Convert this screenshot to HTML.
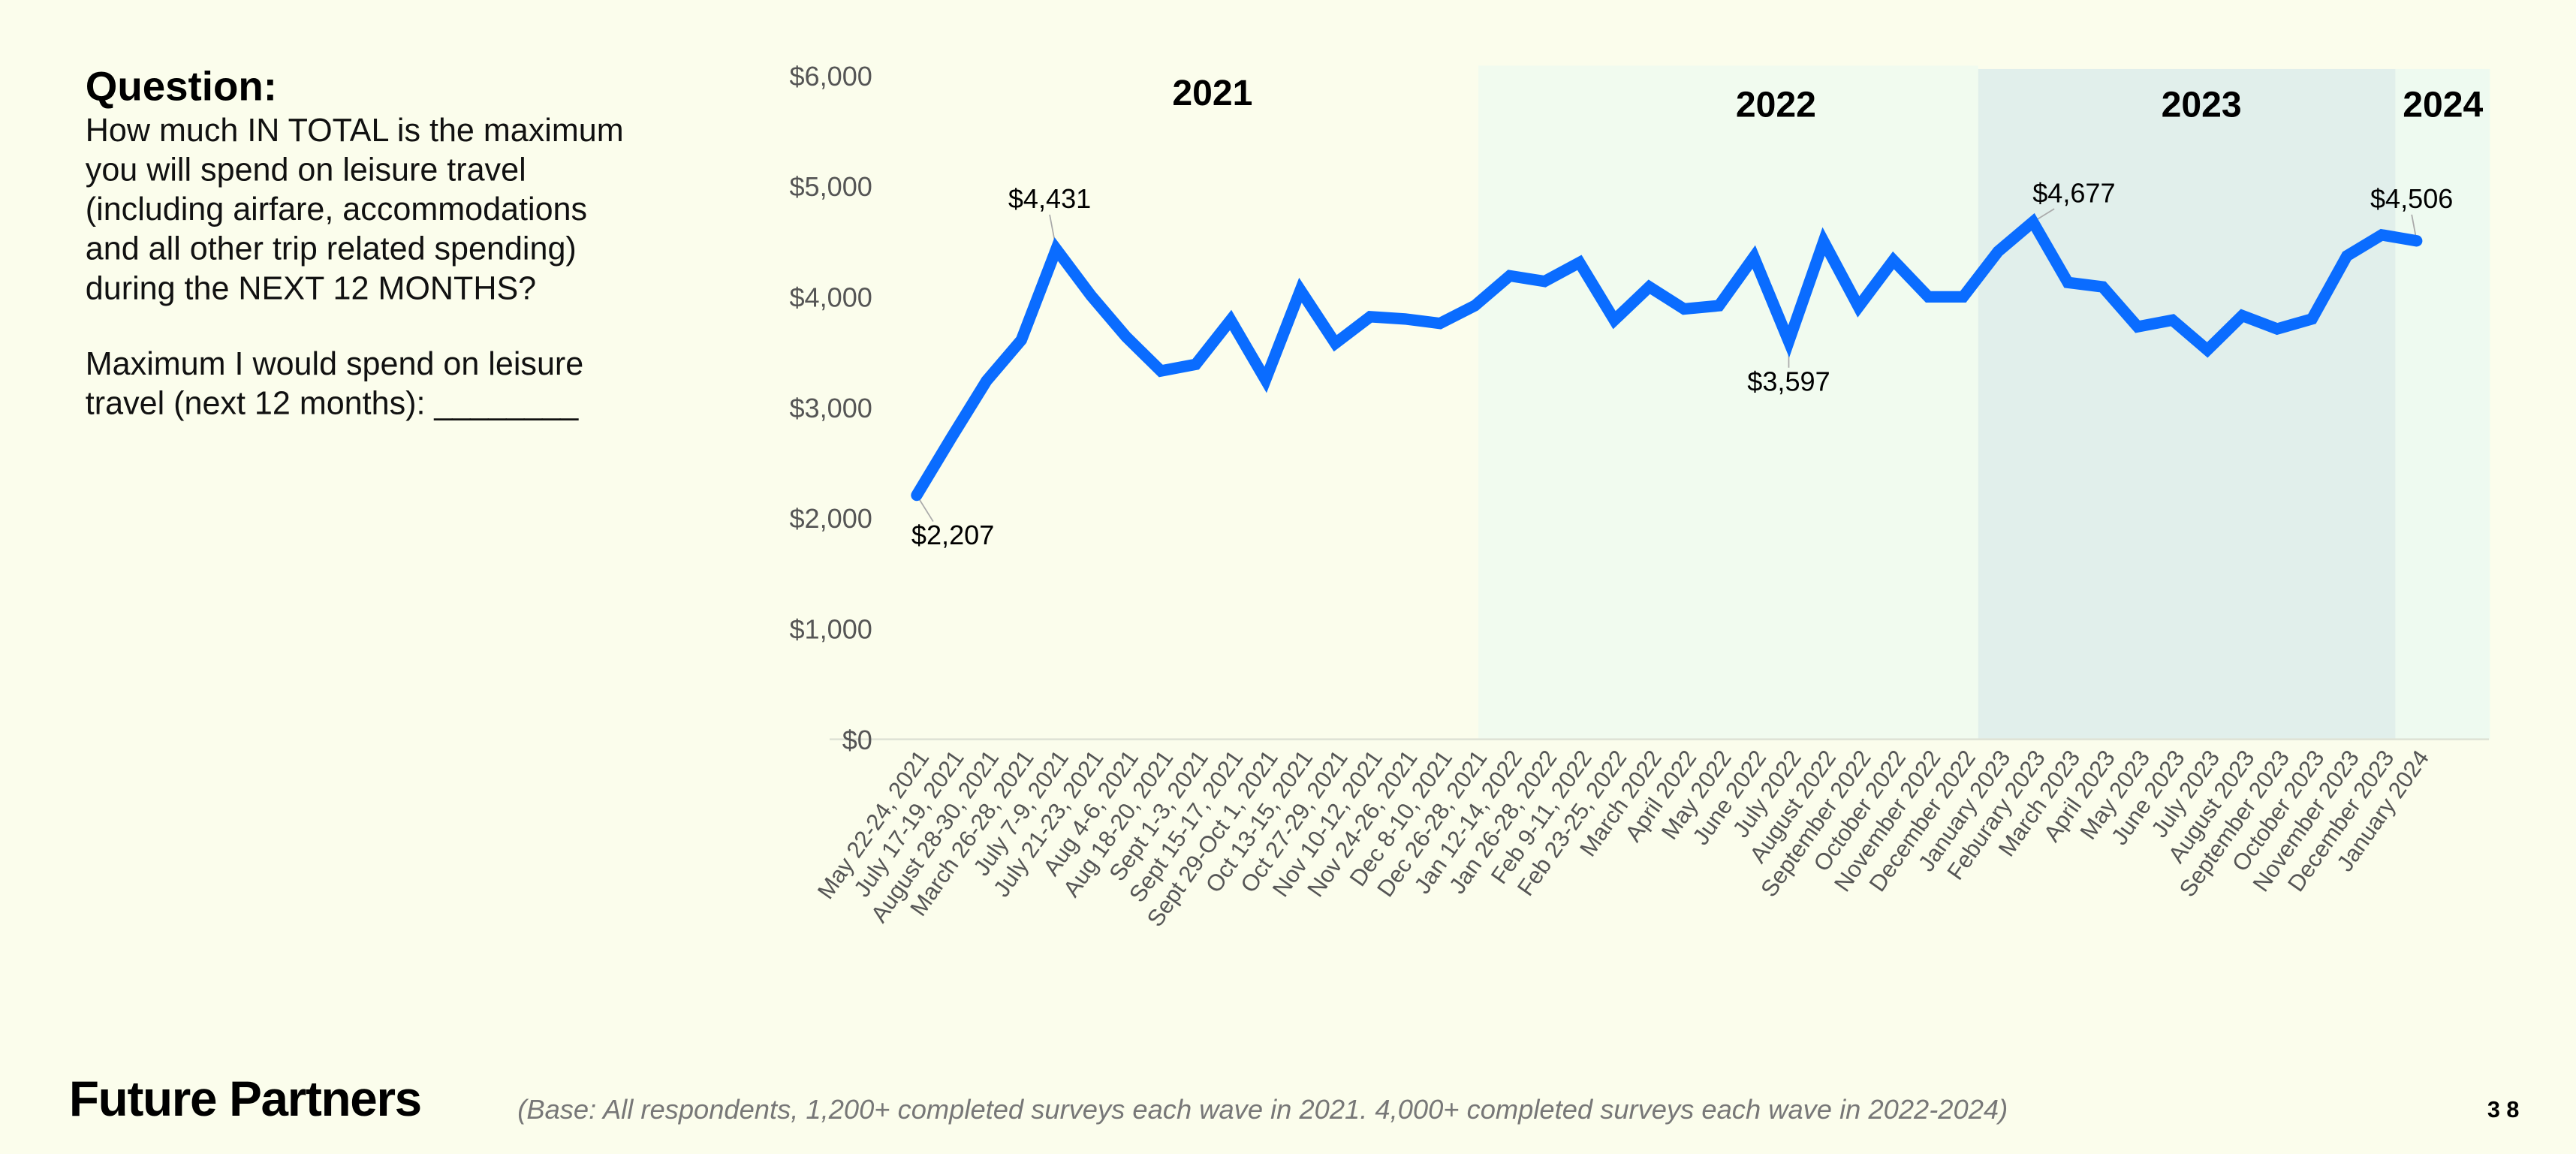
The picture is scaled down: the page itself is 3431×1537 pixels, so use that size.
<!DOCTYPE html>
<html><head><meta charset="utf-8"><style>
html,body{margin:0;padding:0;background:#fbfdec;}
svg{display:block;font-family:"Liberation Sans",sans-serif;}
</style></head><body>
<svg width="3431" height="1537" viewBox="0 0 1568 702.4">
<rect x="0" y="0" width="1568" height="702.4" fill="#fbfdec"/>
<g>
<text x="52" y="61" font-size="25" font-weight="bold" fill="#000">Question:</text>
<g font-size="19.7" fill="#111">
<text x="52" y="86">How much IN TOTAL is the maximum</text>
<text x="52" y="110">you will spend on leisure travel</text>
<text x="52" y="134">(including airfare, accommodations</text>
<text x="52" y="158">and all other trip related spending)</text>
<text x="52" y="182">during the NEXT 12 MONTHS?</text>
<text x="52" y="228">Maximum I would spend on leisure</text>
<text x="52" y="252">travel (next 12 months): ________</text>
</g></g>
<g id="chart"></g>
<text x="42" y="679" font-size="30" font-weight="bold" fill="#000" letter-spacing="-0.6">Future Partners</text>
<text x="315" y="681" font-size="16.6" font-style="italic" fill="#777">(Base: All respondents, 1,200+ completed surveys each wave in 2021. 4,000+ completed surveys each wave in 2022-2024)</text>
<text x="1514" y="680" font-size="14" font-weight="bold" fill="#000">3 8</text>
</svg>
<script>
const categories = ["May 22-24, 2021","July 17-19, 2021","August 28-30, 2021","March 26-28, 2021","July 7-9, 2021","July 21-23, 2021","Aug 4-6, 2021","Aug 18-20, 2021","Sept 1-3, 2021","Sept 15-17, 2021","Sept 29-Oct 1, 2021","Oct 13-15, 2021","Oct 27-29, 2021","Nov 10-12, 2021","Nov 24-26, 2021","Dec 8-10, 2021","Dec 26-28, 2021","Jan 12-14, 2022","Jan 26-28, 2022","Feb 9-11, 2022","Feb 23-25, 2022","March 2022","April 2022","May 2022","June 2022","July 2022","August 2022","September 2022","October 2022","November 2022","December 2022","January 2023","Feburary 2023","March 2023","April 2023","May 2023","June 2023","July 2023","August 2023","September 2023","October 2023","November 2023","December 2023","January 2024"];
const values = [2207,2730,3240,3610,4431,4010,3640,3330,3390,3790,3250,4060,3580,3820,3800,3760,3920,4190,4140,4310,3790,4090,3890,3920,4360,3597,4500,3910,4330,4000,4000,4410,4677,4130,4090,3730,3790,3520,3830,3710,3800,4370,4560,4506];
const yTicks = [0,1000,2000,3000,4000,5000,6000];
const yTickLabels = ["$0","$1,000","$2,000","$3,000","$4,000","$5,000","$6,000"];
const labeledIdx = [0,4,25,32,43];
const labelText = ["$2,207","$4,431","$3,597","$4,677","$4,506"];
const years = ["2021","2022","2023","2024"];

const NS="http://www.w3.org/2000/svg";
const g=document.getElementById('chart');
const x0=558, x1=1471, yBase=450, yTop=46, yMax=6000;
const X=i=>x0+(x1-x0)*i/(categories.length-1);
const Y=v=>yBase-(yBase-yTop)*v/yMax;
function mk(tag,attrs,parent){const e=document.createElementNS(NS,tag);for(const k in attrs)e.setAttribute(k,attrs[k]);(parent||g).appendChild(e);return e;}
const bands=[[16.1,30.43,40,"#f1fbef"],[30.43,42.39,42,"#e1efeb"],[42.39,45.1,42,"#eefaf0"]];
bands.forEach((b,k)=>{
 const r=mk('rect',{x:X(b[0]),y:b[2],width:X(b[1])-X(b[0]),height:yBase-b[2],fill:b[3]});
 
 
});
const yearPos=[[738,64],[1081,71],[1340,71],[1487,71]];
years.forEach((y,k)=>{
 const t=mk('text',{x:yearPos[k][0],y:yearPos[k][1],'font-size':22,'font-weight':'bold','text-anchor':'middle',fill:'#000'});
 t.textContent=y;
 
 
});
const bl=mk('line',{x1:505,x2:1515,y1:yBase,y2:yBase,stroke:'#dfe3d6','stroke-width':1.2});


yTicks.forEach((v,k)=>{
 const t=mk('text',{x:531,y:Y(v)+6,'font-size':16.5,'text-anchor':'end',fill:'#555'});
 t.textContent=yTickLabels[k];
 
 
});
categories.forEach((c,i)=>{
 const t=mk('text',{transform:`translate(${X(i)+8},${461}) rotate(-55)`,'font-size':14.2,'text-anchor':'end',fill:'#555'});
 t.textContent=c;
 
 
});
const lblOff=[[22,30],[-4,-25],[0,30],[25,-12],[-3,-20]];
labeledIdx.forEach((idx,k)=>{
 const px=X(idx),py=Y(values[idx]);
 const lx=px+lblOff[k][0], ly=py+lblOff[k][1];
 const ln=mk('line',{x1:px,y1:py,x2:lx+(lblOff[k][0]>10?-12:0),y2:ly+(lblOff[k][1]>0?-14:4),stroke:'#aaa','stroke-width':0.8});
 
 
});
const pts=values.map((v,i)=>X(i)+','+Y(v)).join(' ');
const pl=mk('polyline',{points:pts,fill:'none',stroke:'#0a6cff','stroke-width':7,'stroke-linejoin':'miter','stroke-linecap':'round','stroke-miterlimit':3});


labeledIdx.forEach((idx,k)=>{
 const px=X(idx),py=Y(values[idx]);
 const t=mk('text',{x:px+lblOff[k][0],y:py+lblOff[k][1],'font-size':16.5,'text-anchor':'middle',fill:'#000'});
 t.textContent=labelText[k];
 
 
});
</script>
</body></html>
